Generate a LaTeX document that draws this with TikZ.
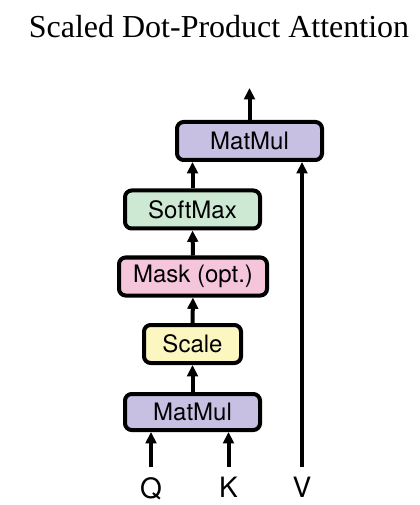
\documentclass[tikz,border=0pt]{standalone}
\usepackage{fontspec}
\setmainfont{Liberation Serif}
\setsansfont{TeX Gyre Heros}
\usetikzlibrary{arrows.meta}

\definecolor{matmulfill}{RGB}{199,192,226}
\definecolor{softmaxfill}{RGB}{205,232,211}
\definecolor{maskfill}{RGB}{245,198,219}
\definecolor{scalefill}{RGB}{252,247,192}

\begin{document}
\begin{tikzpicture}[
    x=0.75pt, y=-0.75pt,
    >={Triangle[length=8.5pt, width=8pt]},
    every node/.style={font=\sffamily\fontsize{18}{20}\selectfont},
    op/.style={
        draw,
        line width=3pt,
        rounded corners=5pt,
        align=center,
        inner sep=0pt,
        minimum height=28.5pt
    },
    lbl/.style={
        inner sep=0pt,
        anchor=north,
        font=\sffamily\fontsize{21}{24}\selectfont
    },
    arr/.style={->, line width=3pt}
]

    % canvas
    \useasboundingbox (0,0) rectangle (419,505);

    % title
    \node[font=\rmfamily\fontsize{24}{28}\selectfont, anchor=base] (title) at (219,38) {Scaled Dot-Product Attention};

    % operation boxes
    \node[op, fill=matmulfill, minimum width=108.75pt] (mm2) at (249.5,141) {MatMul};
    \node[op, fill=softmaxfill, minimum width=101.25pt] (soft) at (192.5,209.5) {SoftMax};
    \node[op, fill=maskfill, minimum width=111pt] (mask) at (193,276.5) {Mask (opt.)};
    \node[op, fill=scalefill, minimum width=72.75pt] (scale) at (192.5,344) {Scale};
    \node[op, fill=matmulfill, minimum width=101.25pt, minimum height=27pt] (mm1) at (192.5,412) {MatMul};

    % inputs
    \node[lbl] (q) at (151,477) {Q};
    \node[lbl] (k) at (228.5,477) {K};
    \node[lbl] (v) at (302,477) {V};

    \coordinate (out) at (249.5,88);

    % Arrows
    \draw[arr, shorten <=7.5pt] (q.north) -- (q.north |- mm1.south);
    \draw[arr, shorten <=7.5pt] (k.north) -- (k.north |- mm1.south);
    \draw[arr, shorten <=7.5pt] (v.north) -- (v.north |- mm2.south);

    \draw[arr] (mm1.north) -- (scale.south);
    \draw[arr] (scale.north) -- (mask.south);
    \draw[arr] (mask.north) -- (soft.south);
    \draw[arr] (soft.north) -- (soft.north |- mm2.south);
    \draw[arr] (mm2.north) -- (out);

\end{tikzpicture}
\end{document}
